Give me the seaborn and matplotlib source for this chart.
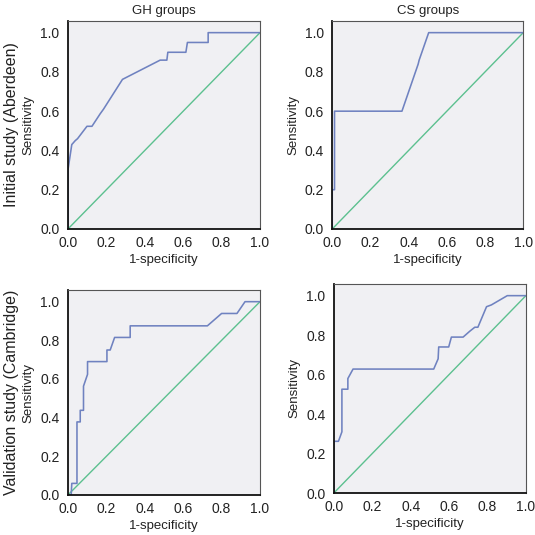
import matplotlib
matplotlib.use("Agg")
import matplotlib.pyplot as plt
import seaborn as sns
import pandas as pd

sns.set_theme(style="white")
plt.rcParams['font.family'] = ['Liberation Sans', 'DejaVu Sans']

# Initial study (Aberdeen), GH groups
gh1_fpr = [0.0, 0.0, 0.02, 0.038, 0.05, 0.099, 0.125, 0.168, 0.185, 0.284, 0.48, 0.515, 0.52, 0.614, 0.622, 0.73, 0.73, 1.0]
gh1_tpr = [0.0, 0.30, 0.43, 0.45, 0.46, 0.523, 0.523, 0.587, 0.61, 0.762, 0.86, 0.86, 0.90, 0.90, 0.95, 0.95, 1.0, 1.0]
# Initial study (Aberdeen), CS groups
cs1_fpr = [0.0, 0.0, 0.012, 0.012, 0.365, 0.45, 0.455, 0.505, 1.0]
cs1_tpr = [0.0, 0.2, 0.2, 0.6, 0.6, 0.84, 0.86, 1.0, 1.0]
# Validation study (Cambridge), GH groups
gh2_fpr = [0.0, 0.017, 0.02, 0.047, 0.047, 0.064, 0.064, 0.081, 0.081, 0.102, 0.102, 0.203, 0.203, 0.22, 0.243, 0.324, 0.324, 0.726, 0.80, 0.88, 0.922, 1.0]
gh2_tpr = [0.0, 0.0, 0.06, 0.06, 0.378, 0.378, 0.438, 0.438, 0.563, 0.624, 0.69, 0.69, 0.75, 0.75, 0.815, 0.815, 0.875, 0.875, 0.939, 0.939, 1.0, 1.0]
# Validation study (Cambridge), CS groups
cs2_fpr = [0.0, 0.0, 0.024, 0.042, 0.042, 0.073, 0.073, 0.10, 0.52, 0.543, 0.546, 0.598, 0.612, 0.673, 0.708, 0.734, 0.75, 0.795, 0.82, 0.903, 1.0]
cs2_tpr = [0.0, 0.262, 0.262, 0.31, 0.526, 0.526, 0.58, 0.628, 0.628, 0.68, 0.74, 0.74, 0.79, 0.79, 0.82, 0.84, 0.84, 0.944, 0.953, 1.0, 1.0]

ref_line = [0.0, 1.0]

col_titles = ["GH groups", "CS groups"]
row_titles = ["Initial study (Aberdeen)", "Validation study (Cambridge)"]
ticks = [0.0, 0.2, 0.4, 0.6, 0.8, 1.0]
tick_labels = ["0.0", "0.2", "0.4", "0.6", "0.8", "1.0"]

curves = [[(gh1_fpr, gh1_tpr), (cs1_fpr, cs1_tpr)],
          [(gh2_fpr, gh2_tpr), (cs2_fpr, cs2_tpr)]]

positions = [[[0.127, 0.572, 0.359, 0.389], [0.621, 0.572, 0.357, 0.389]],
             [[0.127, 0.0748, 0.359, 0.383], [0.624, 0.0785, 0.359, 0.391]]]

blue = "#6f82c0"
green = "#5cc08f"
bg = "#f0f0f3"

fig = plt.figure(figsize=(5.35, 5.35), dpi=100)
fig.patch.set_facecolor("white")

for r in range(2):
    for c in range(2):
        ax = fig.add_axes(positions[r][c])
        ax.set_facecolor(bg)
        fx, ty = curves[r][c]
        df = pd.DataFrame({"x": fx, "y": ty})
        ref = pd.DataFrame({"x": ref_line, "y": ref_line})
        sns.lineplot(data=ref, x="x", y="y", ax=ax, color=green, lw=1.0,
                     sort=False, estimator=None)
        sns.lineplot(data=df, x="x", y="y", ax=ax, color=blue, lw=1.15,
                     sort=False, estimator=None)
        ax.set_xlim(0, 1.0)
        ax.set_ylim(0, 1.06)
        ax.set_xticks(ticks)
        ax.set_xticklabels(tick_labels)
        ax.set_yticks(ticks)
        ax.set_yticklabels(tick_labels)
        ax.tick_params(axis="x", direction="in", length=3, width=1, labelsize=10,
                       pad=5, colors="#222222")
        ax.tick_params(axis="y", direction="out", length=3, width=1, labelsize=10,
                       pad=3, colors="#222222")
        ax.set_xlabel("1-specificity", fontsize=9.5, color="#222222", labelpad=3)
        ax.set_ylabel("Sensitivity", fontsize=9.5, color="#222222", labelpad=4)
        for s in ["left", "bottom"]:
            ax.spines[s].set_color("#111111")
            ax.spines[s].set_linewidth(1.3)
        for s in ["top", "right"]:
            ax.spines[s].set_color("#555555")
            ax.spines[s].set_linewidth(0.8)
        if r == 0:
            ax.set_title(col_titles[c], fontsize=9.5, color="#222222", pad=5)

fig.text(0.022, 0.572 + 0.389 / 2, row_titles[0], rotation=90, ha="center",
         va="center", fontsize=11.5, color="#222222")
fig.text(0.022, 0.0748 + 0.383 / 2, row_titles[1], rotation=90, ha="center",
         va="center", fontsize=11.5, color="#222222")

fig.savefig("out.png", dpi=100)
